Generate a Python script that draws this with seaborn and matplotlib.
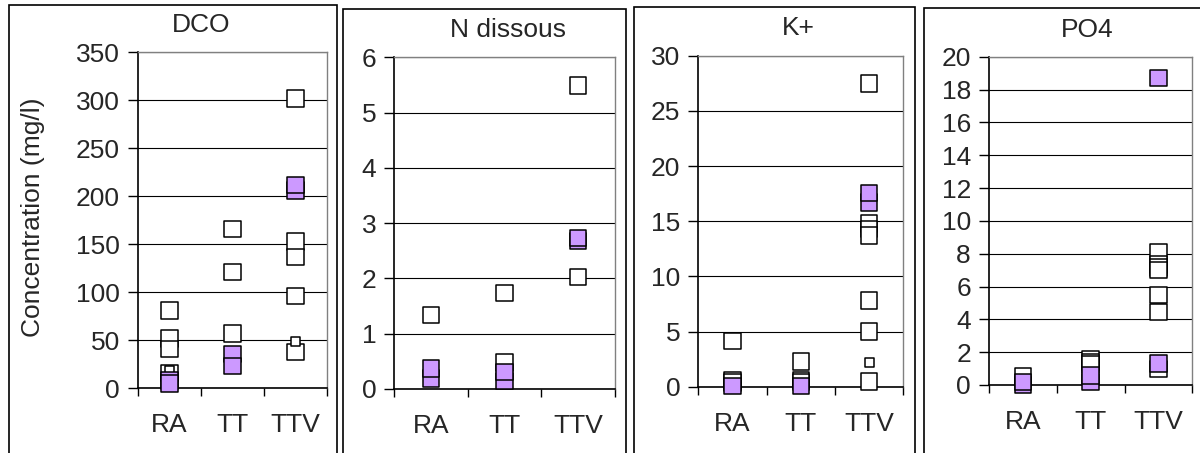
import numpy as np
import pandas as pd
import matplotlib
matplotlib.use("Agg")
import matplotlib.pyplot as plt
from matplotlib.patches import Rectangle
import seaborn as sns

sns.set_theme(style="white")
plt.rcParams['font.family'] = ['Liberation Sans', 'DejaVu Sans']

categories = ["RA", "TT", "TTV"]
titles = ["DCO", "N dissous", "K+", "PO4"]
ylabel = "Concentration (mg/l)"
ylims = [350, 6, 30, 20]
ysteps = [50, 1, 5, 2]

# values per panel: for each category (RA, TT, TTV)
dco_white = [[81, 52, 41, 16], [166, 121, 57], [302, 153, 137, 96, 38]]
dco_small = [[19], [], [49]]
dco_purple = [[8, 5], [36, 23], [206, 212]]

n_white = [[1.34], [1.74, 0.48], [5.49, 2.03]]
n_small = [[], [], []]
n_purple = [[0.19, 0.37], [0.14, 0.31], [2.68, 2.73]]

k_white = [[4.14, 0.55, 0.4], [2.3, 0.6, 0.45], [27.5, 14.8, 14.3, 13.7, 7.83, 4.99, 0.49]]
k_small = [[], [], [2.18]]
k_purple = [[0.05], [0.05], [16.7, 17.56]]

p_white = [[0.55], [1.6, 1.4, 1.25], [8.1, 7.35, 7.15, 7.0, 5.47, 4.45, 0.96]]
p_small = [[], [], []]
p_purple = [[0.0, 0.2], [0.18, 0.59], [18.7, 1.3]]

panels = [(dco_white, dco_small, dco_purple),
          (n_white, n_small, n_purple),
          (k_white, k_small, k_purple),
          (p_white, p_small, p_purple)]

W, H = 1200, 453
fig = plt.figure(figsize=(W / 100, H / 100), dpi=100)
fig.patch.set_facecolor("white")

def rect(l, t, r, b):
    return [l / W, 1 - b / H, (r - l) / W, (b - t) / H]

# outer chart frames (pixels: left, top, right)
frames = [(9, 5, 337), (343, 9, 626), (634, 7, 915), (924, 8, 1206)]
for l, t, r in frames:
    fig.patches.append(Rectangle((l / W, -0.05), (r - l) / W, 1 - t / H + 0.05,
                                 transform=fig.transFigure, fill=False,
                                 edgecolor="black", linewidth=1.2, zorder=0))

axes_px = [(138, 52.3, 327, 388.3), (394.3, 57.3, 615, 389),
           (698.3, 55.7, 903.3, 386.7), (989, 56.7, 1192.3, 385)]
title_pos = [(201, 25), (508, 30), (798, 28), (1087, 30)]

palette = {"white": "white", "small": "white", "purple": "#CC99FF"}
sizes = {"white": 140, "small": 40, "purple": 140}

for i, (whites, smalls, purples) in enumerate(panels):
    rows = []
    for kind, data in (("white", whites), ("small", smalls), ("purple", purples)):
        for ci, vals in enumerate(data):
            for v in vals:
                rows.append({"pos": ci, "val": v, "kind": kind})
    df = pd.DataFrame(rows)
    ax = fig.add_axes(rect(*axes_px[i]))
    ax.set_facecolor("white")
    sns.scatterplot(data=df, x="pos", y="val", hue="kind", palette=palette,
                    size="kind", sizes=sizes, marker="s", edgecolor="black",
                    linewidth=1.1, legend=False, ax=ax, clip_on=False, zorder=3)
    ax.set_xlim(-0.5, 2.5)
    ax.set_ylim(0, ylims[i])
    ax.set_yticks(np.arange(0, ylims[i] + ysteps[i] / 2, ysteps[i]))
    ax.set_xticks([-0.5, 0.5, 1.5, 2.5])
    ax.set_xticklabels([])
    ax.set_xticks([0, 1, 2], minor=True)
    ax.set_xticklabels(categories, minor=True)
    ax.tick_params(axis="x", which="minor", length=0, pad=18, labelsize=19)
    ax.tick_params(axis="x", which="major", direction="out", length=6, width=1,
                   color="black", bottom=True)
    ax.tick_params(axis="y", direction="out", length=7, width=1, color="black",
                   left=True, labelsize=19, pad=6)
    ax.yaxis.grid(True, color="black", linewidth=0.8)
    ax.xaxis.grid(False)
    ax.set_axisbelow(True)
    for s in ("left", "bottom"):
        ax.spines[s].set_color("black")
        ax.spines[s].set_linewidth(1.2)
    for s in ("top", "right"):
        ax.spines[s].set_color("#808080")
        ax.spines[s].set_linewidth(1.0)
    ax.set_xlabel("")
    ax.set_ylabel("")
    fig.text(title_pos[i][0] / W, 1 - title_pos[i][1] / H, titles[i],
             ha="center", va="center", fontsize=19)

fig.text(33 / W, 1 - 217 / H, ylabel, rotation=90, ha="center", va="center",
         fontsize=19)

fig.savefig("out.png", dpi=100, facecolor="white")
